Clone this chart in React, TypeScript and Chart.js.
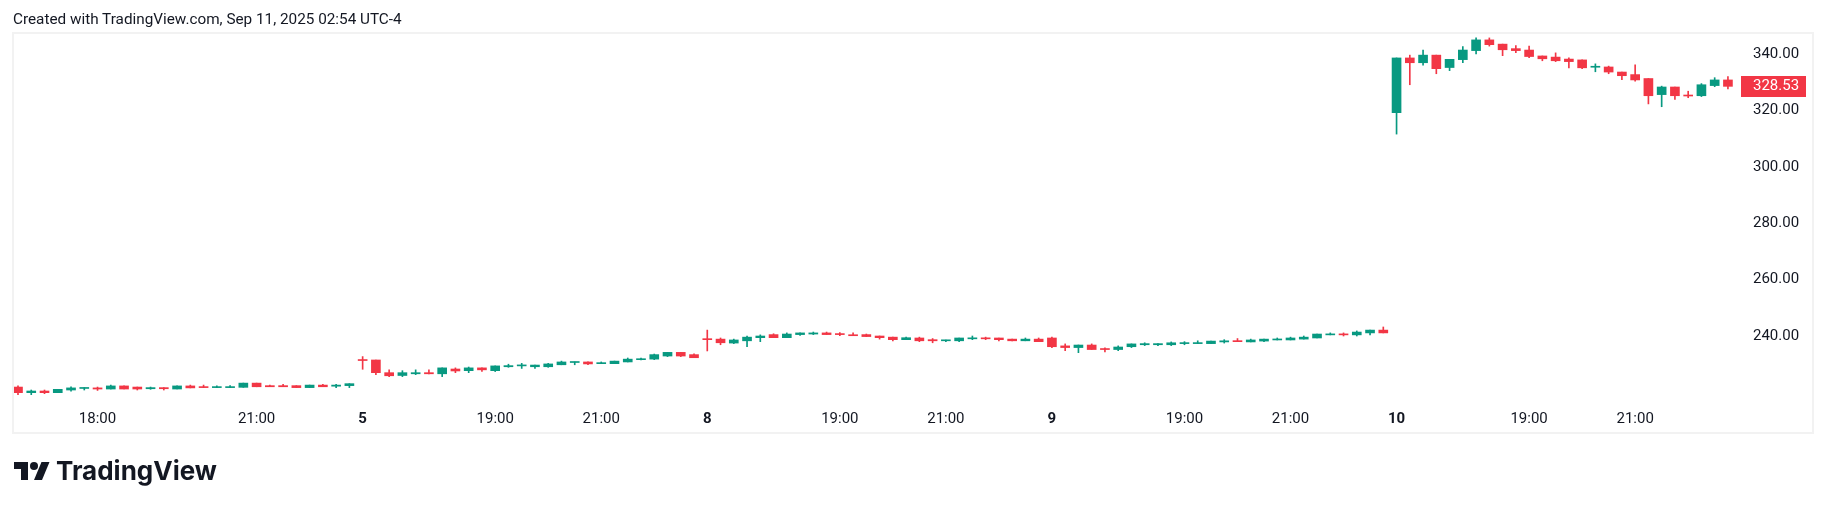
import React, { useEffect, useRef } from "react";
import { Chart, registerables } from "chart.js";

Chart.register(...registerables);

const opens = [
  221.9, 219.9, 220.5, 219.9, 220.85, 221.4, 221.6, 221.2, 222.3, 221.9,
  221.3, 221.7, 221.2, 222.3, 222.0, 221.7, 221.7, 221.8, 223.3, 222.4,
  222.4, 222.4, 221.7, 222.6, 222.2, 222.4,
  231.6, 231.5, 227.0, 226.0, 226.6, 227.0, 226.6, 228.3, 227.7, 228.7,
  227.7, 229.1, 229.4, 229.1, 229.1, 229.8, 230.6, 230.8, 230.2, 230.2,
  230.8, 231.6, 231.8, 232.9, 234.2, 233.4,
  238.9, 238.9, 237.5, 238.3, 239.4, 240.5, 239.4, 240.5, 240.7, 241.1,
  240.8, 240.4, 240.5, 240.0, 239.6, 238.7, 239.3, 238.7, 238.3, 238.3,
  239.0, 239.3, 239.3, 238.9, 238.3, 238.9,
  239.3, 236.5, 235.9, 236.8, 235.4, 235.2, 236.2, 236.9, 236.9, 236.9,
  237.3, 237.3, 237.3, 237.9, 238.3, 237.9, 238.2, 238.6, 238.6, 238.9,
  239.3, 240.4, 240.7, 240.4, 241.1, 242.1,
  319.2, 338.6, 336.9, 339.6, 335.2, 338.0, 341.2, 345.0, 343.5, 341.9,
  341.4, 339.3, 338.9, 338.2, 337.9, 335.3, 335.4, 333.6, 332.7, 331.3,
  325.6, 328.3, 325.3, 325.2, 328.8, 330.8,
];
const highs = [
  222.3, 220.85, 220.85, 221.1, 222.0, 221.7, 221.9, 222.6, 222.3, 221.9,
  221.9, 221.7, 222.3, 222.6, 222.6, 222.3, 222.4, 223.3, 223.3, 222.6,
  222.9, 222.4, 222.6, 222.9, 222.9, 223.1,
  232.7, 231.5, 228.0, 227.7, 228.0, 228.0, 228.7, 228.7, 229.0, 228.7,
  229.4, 230.0, 230.3, 229.7, 230.3, 231.1, 230.8, 230.8, 230.8, 231.1,
  232.2, 232.2, 233.6, 234.2, 234.2, 233.7,
  242.1, 239.3, 238.9, 240.0, 240.4, 240.8, 241.1, 241.1, 241.4, 241.4,
  241.2, 241.1, 240.7, 240.0, 239.6, 239.6, 239.6, 239.1, 238.6, 239.3,
  240.0, 239.6, 239.3, 238.9, 239.3, 239.3,
  239.6, 237.2, 236.8, 237.2, 235.8, 236.5, 237.2, 237.6, 237.3, 237.9,
  238.0, 238.3, 238.2, 238.7, 239.1, 238.9, 238.9, 239.3, 239.6, 240.0,
  240.7, 241.1, 241.1, 241.8, 242.1, 243.2,
  338.6, 339.6, 341.4, 339.6, 338.1, 342.6, 345.7, 345.7, 343.5, 343.0,
  342.8, 339.3, 340.4, 338.6, 337.9, 336.5, 335.7, 333.6, 336.2, 331.3,
  328.6, 328.3, 326.8, 329.5, 331.6, 332.0,
];
const lows = [
  219.2, 219.2, 219.55, 219.9, 220.4, 220.85, 220.7, 221.2, 221.2, 220.85,
  221.1, 220.85, 221.2, 221.6, 221.7, 221.7, 221.7, 221.8, 222.0, 222.0,
  222.0, 221.7, 221.7, 222.0, 221.7, 221.7,
  228.2, 226.3, 225.6, 225.6, 226.3, 226.6, 225.6, 227.0, 227.0, 227.4,
  227.4, 228.9, 228.5, 228.5, 228.9, 229.8, 229.8, 229.8, 230.2, 230.2,
  230.8, 231.5, 231.6, 232.7, 232.7, 232.3,
  234.7, 236.9, 237.3, 236.2, 238.0, 239.4, 239.4, 240.2, 240.5, 240.5,
  240.1, 240.1, 239.8, 238.9, 238.3, 238.7, 238.0, 237.6, 238.0, 238.0,
  238.7, 238.7, 238.3, 238.3, 238.3, 238.0,
  235.9, 234.8, 234.1, 235.2, 234.4, 234.8, 235.9, 236.6, 236.6, 236.6,
  236.9, 237.3, 237.3, 237.5, 238.0, 237.9, 238.0, 238.6, 238.6, 238.9,
  239.3, 240.4, 240.0, 240.0, 240.4, 241.1,
  311.6, 329.1, 336.0, 333.0, 334.1, 336.9, 340.0, 342.8, 339.4, 340.5,
  338.7, 337.6, 337.3, 335.1, 334.8, 333.7, 333.0, 330.9, 330.4, 322.3,
  321.3, 323.9, 324.5, 324.9, 328.4, 327.6,
];
const closes = [
  219.9, 220.5, 219.9, 221.1, 221.6, 221.6, 221.2, 222.3, 221.2, 221.2,
  221.7, 221.3, 222.3, 221.6, 221.7, 222.0, 222.0, 223.3, 222.0, 222.0,
  222.0, 221.7, 222.6, 222.0, 222.6, 223.1,
  231.3, 227.0, 225.9, 227.0, 227.0, 226.6, 228.7, 227.6, 228.7, 228.0,
  229.4, 229.5, 229.6, 229.7, 230.1, 230.8, 230.8, 230.1, 230.4, 231.1,
  231.8, 231.8, 233.4, 234.2, 232.9, 232.3,
  238.7, 237.6, 238.6, 239.6, 240.0, 239.4, 240.7, 241.1, 241.1, 240.5,
  240.5, 240.1, 239.8, 239.4, 238.7, 239.4, 238.3, 238.3, 238.6, 239.3,
  239.3, 239.0, 238.7, 238.3, 238.9, 238.0,
  236.2, 235.9, 236.8, 235.2, 235.2, 236.1, 237.2, 237.3, 237.3, 237.6,
  237.6, 237.6, 238.2, 238.3, 238.0, 238.6, 238.9, 238.9, 239.3, 239.6,
  240.7, 240.7, 240.4, 241.4, 242.1, 241.1,
  338.6, 336.9, 339.6, 334.8, 338.1, 341.4, 345.0, 343.3, 341.5, 341.2,
  339.1, 338.3, 337.6, 337.3, 335.1, 335.4, 333.6, 332.3, 330.8, 325.2,
  328.3, 325.2, 325.1, 329.1, 330.8, 328.53,
];

const timeTickIndex = [6, 18, 26, 36, 44, 52, 62, 70, 78, 88, 96, 104, 114, 122];
const timeTickLabels = ["18:00", "21:00", "5", "19:00", "21:00", "8", "19:00", "21:00", "9", "19:00", "21:00", "10", "19:00", "21:00"];
const dayLabels = ["5", "8", "9", "10"];
const priceTicks = [240, 260, 280, 300, 320, 340];
const lastPrice = 328.53;

const UP = "#089981";
const DOWN = "#F23645";
const TEXT = "#131722";

const framePlugin = {
  id: "tvFrame",
  beforeDraw(chart: any) {
    const ctx = chart.ctx;
    ctx.save();
    ctx.fillStyle = "#ffffff";
    ctx.fillRect(0, 0, chart.width, chart.height);
    ctx.strokeStyle = "#f2f2f2";
    ctx.lineWidth = 2;
    ctx.strokeRect(13, 33, 1800, 400);
    ctx.restore();
  },
  afterDraw(chart: any) {
    const ctx = chart.ctx;
    const y = chart.scales.y.getPixelForValue(lastPrice);
    ctx.save();
    ctx.fillStyle = DOWN;
    ctx.fillRect(1741, Math.round(y) - 10, 65, 21);
    ctx.fillStyle = "#ffffff";
    ctx.font = "15px Roboto";
    ctx.textAlign = "left";
    ctx.textBaseline = "middle";
    ctx.fillText(lastPrice.toFixed(2), 1753, Math.round(y) + 0.5);
    ctx.restore();
  },
};

export default function App() {
  const ref = useRef<HTMLCanvasElement | null>(null);

  useEffect(() => {
    if (!ref.current) return;
    Chart.defaults.font.family = "Roboto";
    const colors = opens.map((o, i) => (closes[i] >= o ? UP : DOWN));
    const chart = new Chart(ref.current, {
      type: "bar",
      data: {
        datasets: [
          {
            label: "body",
            data: opens.map((o, i) => ({ x: i, y: [o, closes[i]] })) as any,
            backgroundColor: colors,
            barThickness: 9,
            grouped: false,
            minBarLength: 1,
            borderWidth: 0,
            order: 0,
          } as any,
          {
            label: "wick",
            data: lows.map((l, i) => ({ x: i, y: [l, highs[i]] })) as any,
            backgroundColor: colors,
            barThickness: 1,
            grouped: false,
            borderWidth: 0,
            order: 1,
          } as any,
        ],
      },
      options: {
        animation: false,
        responsive: false,
        maintainAspectRatio: false,
        layout: { padding: { left: 14, top: 34, right: 14, bottom: 77 } },
        plugins: { legend: { display: false }, tooltip: { enabled: false } },
        scales: {
          x: {
            type: "linear",
            min: -0.3018,
            max: 129.91,
            offset: false,
            grid: { display: false, drawTicks: false },
            border: { display: false },
            afterBuildTicks: (s: any) => {
              s.ticks = timeTickIndex.map((v) => ({ value: v }));
            },
            afterFit: (s: any) => {
              s.height = 28;
            },
            ticks: {
              autoSkip: false,
              maxRotation: 0,
              padding: 6,
              color: TEXT,
              callback: (v: any) => {
                const k = timeTickIndex.indexOf(Number(v));
                return k >= 0 ? timeTickLabels[k] : "";
              },
              font: (ctx: any) => {
                const k = timeTickIndex.indexOf(Number(ctx.tick?.value));
                const lbl = k >= 0 ? timeTickLabels[k] : "";
                return { size: 15, weight: dayLabels.includes(lbl) ? "bold" : "normal" } as any;
              },
            },
          } as any,
          y: {
            position: "right",
            min: 215.89,
            max: 347.09,
            grid: { display: false, drawTicks: false },
            border: { display: false },
            afterBuildTicks: (s: any) => {
              s.ticks = priceTicks.map((v) => ({ value: v }));
            },
            afterFit: (s: any) => {
              s.width = 72;
            },
            ticks: {
              padding: 13,
              color: TEXT,
              font: { size: 15 },
              callback: (v: any) => Number(v).toFixed(2),
            },
          } as any,
        },
      },
      plugins: [framePlugin],
    });
    return () => chart.destroy();
  }, []);

  return (
    <div style={{ position: "fixed", left: 0, top: 0, width: 1826, height: 509, background: "#fff", overflow: "hidden" }}>
      <canvas ref={ref} width={1826} height={509} style={{ position: "absolute", left: 0, top: 0, width: 1826, height: 509 }} />
      <div
        style={{
          position: "absolute",
          left: 13,
          top: 10,
          fontFamily: "Roboto",
          fontSize: 15.3,
          lineHeight: "18px",
          color: TEXT,
          whiteSpace: "nowrap",
        }}
      >
        Created with TradingView.com, Sep 11, 2025 02:54 UTC-4
      </div>
      <svg style={{ position: "absolute", left: 14, top: 457.7 }} width={36} height={28} viewBox="0 0 36 28">
        <path d="M14 22H7V11H0V4h14v18z" fill={TEXT} />
        <path d="M28 22h-8l7.5-18h8L28 22z" fill={TEXT} />
        <circle cx={20} cy={8} r={4} fill={TEXT} />
      </svg>
      <div
        style={{
          position: "absolute",
          left: 56,
          top: 453,
          fontFamily: "Inter",
          fontWeight: 700,
          fontSize: 26,
          lineHeight: "36px",
          color: TEXT,
          whiteSpace: "nowrap",
        }}
      >
        TradingView
      </div>
    </div>
  );
}
